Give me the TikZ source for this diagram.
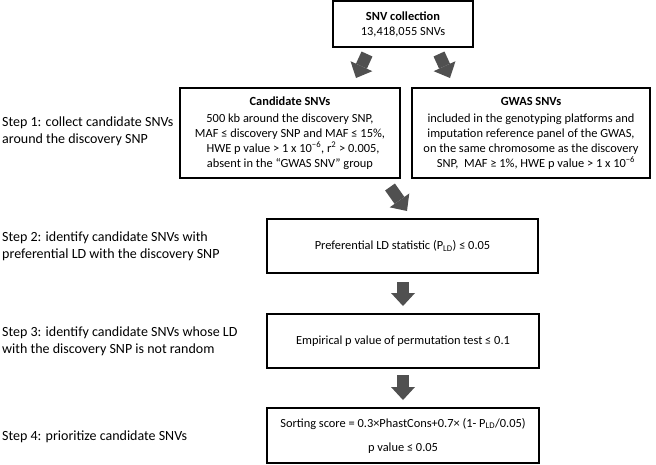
\documentclass[tikz,border=0pt]{standalone}
\usepackage{fontspec}
\setmainfont{Carlito}
\usetikzlibrary{arrows.meta}
\newcommand{\mysup}[1]{\textsuperscript{#1}}
\newcommand{\mysub}[1]{\textsubscript{#1}}
\definecolor{arrowgrey}{HTML}{505050}
\begin{document}
\begin{tikzpicture}[x=1pt,y=-1pt,
  box/.style={draw=black, line width=1.1pt, rectangle, inner sep=0pt, align=center,
    font=\fontsize{12.4}{15}\selectfont},
  steplabel/.style={anchor=west, align=left, inner sep=0pt,
    font=\fontsize{14}{17}\selectfont},
  bigarrow/.style={draw=arrowgrey, line width=12pt,
    -{Triangle[width=24pt,length=13pt,line width=0pt]}}]
\useasboundingbox (0,0) rectangle (656,464);

% boxes
\node[box, minimum width=140pt, minimum height=46pt] (snv) at (403,24)
  {\textbf{SNV collection}\\13,418,055 SNVs};
\node[box, minimum width=220pt, minimum height=90pt] (cand) at (290,133)
  {\textbf{Candidate SNVs}\\[2pt]500 kb around the discovery SNP,\\MAF ≤ discovery SNP and MAF ≤ 15\%,\\\hspace*{6pt}HWE p value > 1 x 10\mysup{−6}, r\mysup{2} > 0.005,\\absent in the “GWAS SNV” group};
\node[box, minimum width=238pt, minimum height=90pt] (gwas) at (531,133)
  {\textbf{GWAS SNVs}\\[2pt]included in the genotyping platforms and\\imputation reference panel of the GWAS,\\on the same chromosome as the discovery\\\hspace*{10pt}SNP,\ \ MAF ≥ 1\%, HWE p value > 1 x 10\mysup{−6}};
\node[box, minimum width=271pt, minimum height=54pt] (pld) at (402.5,246)
  {Preferential LD statistic (P\mysub{LD}) ≤ 0.05};
\node[box, minimum width=272pt, minimum height=54pt] (emp) at (403,341)
  {Empirical p value of permutation test ≤ 0.1};
\node[box, minimum width=272pt, minimum height=55pt] (sort) at (403,435.5)
  {Sorting score = 0.3×PhastCons+0.7× (1- P\mysub{LD}/0.05)\\[9pt]p value ≤ 0.05};

% step labels
\node[steplabel] (s1) at (2,131) {Step 1: collect candidate SNVs\\around the discovery SNP};
\node[steplabel] (s2) at (2,246) {Step 2: identify candidate SNVs with\\preferential LD with the discovery SNP};
\node[steplabel] (s3) at (2,341) {Step 3: identify candidate SNVs whose LD\\with the discovery SNP is not random};
\node[steplabel] (s4) at (2,437) {Step 4: prioritize candidate SNVs};

% block arrows
\coordinate (a1t) at (367,54);  \coordinate (a1h) at (356,78);
\coordinate (a2t) at (439,54);  \coordinate (a2h) at (450,78);
\coordinate (a3t) at (390,187); \coordinate (a3h) at (407,211);
\coordinate (a4t) at (403,282); \coordinate (a4h) at (403,306);
\coordinate (a5t) at (403,375); \coordinate (a5h) at (403,400);
\draw[bigarrow] (a1t) -- (a1h);
\draw[bigarrow] (a2t) -- (a2h);
\draw[bigarrow] (a3t) -- (a3h);
\draw[bigarrow] (a4t) -- (a4h);
\draw[bigarrow] (a5t) -- (a5h);
\end{tikzpicture}
\end{document}
